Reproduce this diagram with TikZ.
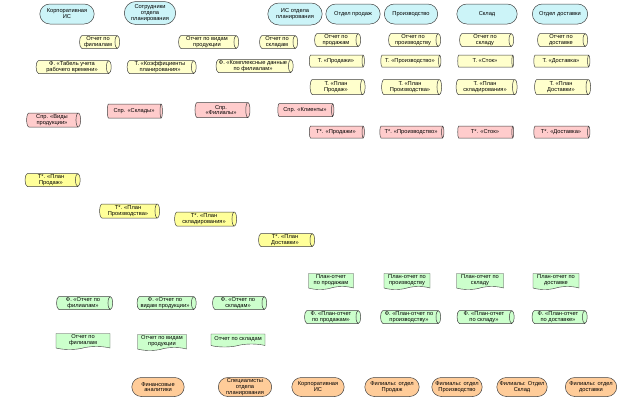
\documentclass[tikz,border=0pt]{standalone}
\usepackage{fontspec}
\setmainfont{Liberation Sans}
\usepackage{tikz}
\usetikzlibrary{positioning,shapes.geometric,shapes.misc,shapes.symbols}
\usepackage{xcolor}
\definecolor{cyanfill}{HTML}{CCF4F8}
\definecolor{paleyellow}{HTML}{FFFFCC}
\definecolor{pinkfill}{HTML}{FFCCCC}
\definecolor{brightyellow}{HTML}{FFFF99}
\definecolor{greenfill}{HTML}{CCFFCC}
\definecolor{orangefill}{HTML}{FFCC99}
\definecolor{edge}{HTML}{404040}

\begin{document}
\begin{tikzpicture}[
  x=1pt, y=-1pt,
  every node/.style={font=\fontsize{5.7}{5.9}\selectfont, align=center},
  actor/.style={
    rounded rectangle, draw=edge, line width=0.5pt,
    minimum height=20pt, inner sep=0.3pt
  },
  store/.style={
    cylinder, draw=edge, line width=0.5pt, shape aspect=0.4,
    minimum width=13pt, inner sep=0.3pt
  },
  slen/.style={minimum height=#1},
  sdia/.style={minimum width=#1},
  docu/.style={
    tape, tape bend top=none, tape bend bottom=in and out,
    tape bend height=3pt, draw=edge, line width=0.4pt,
    minimum height=16pt, inner sep=0.3pt, fill=greenfill
  }
]
\useasboundingbox (0,0) rectangle (619,400);

% Departments and systems (top)
\node[actor, fill=cyanfill, minimum width=55pt] (ki) at (67,14) {Корпоративная\\ИС};
\node[actor, fill=cyanfill, minimum width=52pt, minimum height=23pt] (sotr) at (150,13) {Сотрудники\\отдела\\планирования};
\node[actor, fill=cyanfill, minimum width=55pt, minimum height=22pt] (isop) at (295,14) {ИС отдела\\планирования};
\node[actor, fill=cyanfill, minimum width=55pt] (prod) at (353,14) {Отдел продаж};
\node[actor, fill=cyanfill, minimum width=54pt] (proiz) at (411,14) {Производство};
\node[actor, fill=cyanfill, minimum width=61pt] (sklad) at (487,14) {Склад};
\node[actor, fill=cyanfill, minimum width=56pt] (dost) at (560,14) {Отдел доставки};

% Source reports
\node[store, fill=paleyellow, slen=40pt] (R1) at (98,42) {Отчет по\\филиалам};
\node[store, fill=paleyellow, slen=60pt] (R2) at (207,42) {Отчет по видам\\продукции};
\node[store, fill=paleyellow, slen=38pt] (R3) at (277,42) {Отчет по\\складам};
\node[store, fill=paleyellow, slen=46pt] (R4) at (336,40) {Отчет по\\продажам};
\node[store, fill=paleyellow, slen=52pt] (R5) at (413,40) {Отчет по\\производству};
\node[store, fill=paleyellow, slen=54pt] (R6) at (485,40) {Отчет по\\складу};
\node[store, fill=paleyellow, slen=50pt] (R7) at (561,40) {Отчет по\\доставке};

% Source tables
\node[store, fill=paleyellow, slen=75pt] (S1) at (72,67) {Ф. «Табель учета\\рабочего времени»};
\node[store, fill=paleyellow, slen=69pt] (S2) at (160,67) {Т. «Коэффициенты\\планирования»};
\node[store, fill=paleyellow, slen=77pt] (S3) at (253,66) {Ф. «Комплексные данные\\по филиалам»};
\node[store, fill=paleyellow, slen=55pt, sdia=12pt] (S4) at (336,61) {Т. «Продажи»};
\node[store, fill=paleyellow, slen=60pt, sdia=12pt] (S5) at (410,61) {Т. «Производство»};
\node[store, fill=paleyellow, slen=56pt, sdia=12pt] (S6) at (485,61) {Т. «Сток»};
\node[store, fill=paleyellow, slen=56pt, sdia=12pt] (S7) at (561,61) {Т. «Доставка»};

\node[store, fill=paleyellow, slen=55pt, sdia=15pt] (P1) at (336,87) {Т. «План\\Продаж»};
\node[store, fill=paleyellow, slen=60pt, sdia=15pt] (P2) at (410,87) {Т. «План\\Производства»};
\node[store, fill=paleyellow, slen=61pt, sdia=15pt] (P3) at (485,87) {Т. «План\\складирования»};
\node[store, fill=paleyellow, slen=56pt, sdia=15pt] (P4) at (561,87) {Т. «План\\Доставки»};

% Reference books and staging tables
\node[store, fill=pinkfill, slen=54pt, sdia=14pt] (D1) at (52,120) {Спр. «Виды\\продукции»};
\node[store, fill=pinkfill, slen=55pt, sdia=14pt] (D2) at (134,111) {Спр. «Склады»};
\node[store, fill=pinkfill, slen=55pt, sdia=15pt] (D3) at (221,110) {Спр.\\«Филиалы»};
\node[store, fill=pinkfill, slen=56pt, sdia=13pt] (D4) at (305,110) {Спр. «Клиенты»};
\node[store, fill=pinkfill, slen=55pt, sdia=12pt] (W1) at (336,132) {Т*. «Продажи»};
\node[store, fill=pinkfill, slen=64pt, sdia=12pt] (W2) at (411,132) {Т*. «Производство»};
\node[store, fill=pinkfill, slen=56pt, sdia=12pt] (W3) at (485,132) {Т*. «Сток»};
\node[store, fill=pinkfill, slen=56pt, sdia=12pt] (W4) at (561,132) {Т*. «Доставка»};

% Plan tables
\node[store, fill=brightyellow, slen=55pt] (Q1) at (51,180) {Т*. «План\\Продаж»};
\node[store, fill=brightyellow, slen=60pt, sdia=14pt] (Q2) at (128,211) {Т*. «План\\Производства»};
\node[store, fill=brightyellow, slen=62pt, sdia=14pt] (Q3) at (204,219) {Т*. «План\\складирования»};
\node[store, fill=brightyellow, slen=56pt] (Q4) at (285,240) {Т*. «План\\Доставки»};

% Plan reports
\node[docu, minimum width=45pt] (Y1) at (331,280) {План-отчет\\по продажам};
\node[docu, minimum width=46pt] (Y2) at (407,280) {План-отчет по\\производству};
\node[docu, minimum width=47pt] (Y3) at (480,280) {План-отчет по\\складу};
\node[docu, minimum width=46pt] (Y4) at (556,280) {План-отчет по\\доставке};

\node[store, fill=greenfill, slen=56pt] (F1) at (331,317) {Ф. «План-отчет\\по продажам»};
\node[store, fill=greenfill, slen=60pt] (F2) at (409,317) {Ф. «План-отчет по\\производству»};
\node[store, fill=greenfill, slen=57pt] (F3) at (484,317) {Ф. «План-отчет\\по складу»};
\node[store, fill=greenfill, slen=55pt] (F4) at (558,317) {Ф. «План-отчет\\по доставке»};

% Branch reports
\node[store, fill=greenfill, slen=56pt] (G1) at (83,303) {Ф. «Отчет по\\филиалам»};
\node[store, fill=greenfill, slen=59pt] (G2) at (165,303) {Ф. «Отчет по\\видам продукции»};
\node[store, fill=greenfill, slen=54pt] (G3) at (238,303) {Ф. «Отчет по\\складам»};

\node[docu, minimum width=54pt] (X1) at (83,340) {Отчет по\\филиалам};
\node[docu, minimum width=49pt] (X2) at (162,341) {Отчет по видам\\продукции};
\node[docu, minimum width=54pt, minimum height=13pt] (X3) at (238,339) {Отчет по складам};

% Consumers (bottom)
\node[actor, fill=orangefill, minimum width=53pt, minimum height=19pt] (C1) at (158,387) {Финансовые\\аналитики};
\node[actor, fill=orangefill, minimum width=54pt, minimum height=19pt] (C2) at (245,387) {Специалисты\\отдела\\планирования};
\node[actor, fill=orangefill, minimum width=53pt, minimum height=19pt] (C3) at (318,387) {Корпоративная\\ИС};
\node[actor, fill=orangefill, minimum width=55pt, minimum height=19pt] (C4) at (392,387) {Филиалы: отдел\\Продаж};
\node[actor, fill=orangefill, minimum width=51pt, minimum height=19pt] (C5) at (457,387) {Филиалы: отдел\\Производство};
\node[actor, fill=orangefill, minimum width=51pt, minimum height=19pt] (C6) at (522,387) {Филиалы: Отдел\\Склад};
\node[actor, fill=orangefill, minimum width=52pt, minimum height=19pt] (C7) at (591,387) {Филиалы: отдел\\доставки};

\end{tikzpicture}
\end{document}
